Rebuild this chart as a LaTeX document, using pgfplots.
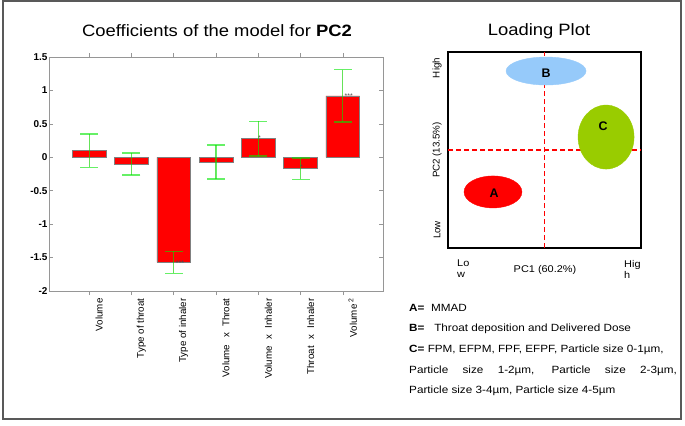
\documentclass[border=0pt]{standalone}
\usepackage{graphicx}
\usepackage{pgfplots}
\pgfplotsset{compat=1.18}
\usepackage{fontspec}
\setmainfont{Liberation Sans}

\definecolor{axgray}{RGB}{150,150,150}
\definecolor{bblue}{RGB}{150,202,250}
\definecolor{cgreen}{RGB}{153,204,0}
\definecolor{errgreen}{RGB}{0,230,0}
\newcommand\hs[1]{\scalebox{1.12}[1]{#1}}
\newcommand\xx{\hspace{7bp}x\hspace{6bp}}

\begin{document}
\begin{tikzpicture}
% outer frame
\draw[black!65, line width=1.3bp] (3bp,-1bp) rectangle (681bp,-419bp);

% ---- left: coefficients ----
\begin{axis}[
    at={(49bp,-291bp)}, anchor=south west,
    width=334bp, height=234bp, scale only axis,
    xmin=0.05, xmax=7.95, ymin=-2, ymax=1.5,
    ybar, bar width=0.8,
    axis line style={draw=axgray, line width=0.9bp},
    tick style={draw=axgray, line width=0.6bp},
    major tick length=4bp,
    xtick={1,...,7},
    xticklabels={Volume, Type of throat, Type of inhaler,
        Volume\xx Throat, Volume\xx Inhaler,
        Throat\xx Inhaler, Volume\,\textsuperscript{2}},
    x tick label style={rotate=90, anchor=east, yshift=-10bp,
        font=\fontsize{9.8}{10}\selectfont},
    ytick={-2,-1.5,...,1.5},
    /pgf/number format/assume math mode=true,
    y tick label style={font=\bfseries\fontsize{10}{10}\selectfont, xshift=2bp},
]
\addplot[fill=red, draw=gray, line width=0.5bp,
    error bars/.cd, y dir=both, y explicit,
    error bar style={draw=errgreen, draw opacity=0.6, line width=1.3bp},
    error mark options={draw=errgreen, draw opacity=0.6, line width=1.3bp, mark size=9bp, rotate=90}]
coordinates {
    (1,0.10)  +- (0,0.25)
    (2,-0.10) +- (0,0.165)
    (3,-1.57) +- (0,0.165)
    (4,-0.07) +- (0,0.255)
    (5,0.28)  +- (0,0.26)
    (6,-0.17) +- (0,0.16)
    (7,0.92)  +- (0,0.39)
};
\node[font=\fontsize{7}{7}\selectfont, text=black!70] at (axis cs:3.15,-1.58) {***};
\node[font=\fontsize{7}{7}\selectfont, text=black!70] at (axis cs:7.14,0.92) {***};
\node[font=\fontsize{7}{7}\selectfont, text=black!70] at (axis cs:5.03,0.29) {*};
\node[font=\fontsize{7}{7}\selectfont, text=black!70] at (axis cs:6.02,-0.15) {*};
\end{axis}

\node[font=\fontsize{16.5}{18}\selectfont] at (217bp,-31bp) {\hs{Coefficients of the model for \textbf{PC2}}};

% ---- right: loading plot ----
\begin{axis}[
    at={(448bp,-248bp)}, anchor=south west,
    width=193bp, height=196bp, scale only axis,
    xmin=0, xmax=10, ymin=0, ymax=10,
    ticks=none,
    axis line style={black, line width=1.6bp},
]
\addplot[bblue, only marks, mark=*, mark size=14bp,
    mark options={xscale=2.857, draw=bblue, fill=bblue}] coordinates {(5.08,9.03)};
\addplot[cgreen, only marks, mark=*, mark size=32bp,
    mark options={xscale=0.875, draw=cgreen, fill=cgreen}] coordinates {(8.19,5.66)};
\addplot[red, only marks, mark=*, mark size=16bp,
    mark options={xscale=1.81, draw=red, fill=red}] coordinates {(2.33,2.86)};
\addplot[red, line width=1.4bp, dash pattern=on 5bp off 3bp] coordinates {(5,0) (5,10)};
\addplot[red, line width=1.4bp, dash pattern=on 5bp off 3bp] coordinates {(0,5) (10,5)};
\end{axis}

% ellipse letters
\begin{scope}[every node/.style={font=\bfseries\fontsize{12.5}{13}\selectfont, inner sep=0pt}]
\node at (546bp,-73bp) {B};
\node at (603bp,-126bp) {C};
\node at (494bp,-193bp) {A};
\end{scope}

\node[font=\fontsize{16.5}{18}\selectfont] at (539bp,-31bp) {\hs{Loading Plot}};
\begin{scope}[every node/.style={font=\fontsize{9.8}{11}\selectfont, inner sep=0pt}]
\node[rotate=90] at (437bp,-68bp) {High};
\node[rotate=90] at (437bp,-230bp) {Low};
\node[rotate=90] at (437bp,-150bp) {PC2 (13.5\%)};
\node at (545bp,-270bp) {\hs{PC1 (60.2\%)}};
\node[anchor=north west, align=left] at (457bp,-260bp) {\hs{Lo}\\\hs{w}};
\node[anchor=north west, align=left] at (624bp,-260bp) {\hs{Hig}\\\hs{h}};
\end{scope}

% ---- key text ----
\begin{scope}[every node/.style={font=\fontsize{10.5}{12}\selectfont, inner sep=0pt, anchor=west}]
\node at (409bp,-308bp) {\hs{\textbf{A=}\ \ MMAD}};
\node at (409bp,-329bp) {\hs{\textbf{B=}\ \ \ Throat deposition and Delivered Dose}};
\node at (409bp,-350bp) {\hs{\textbf{C=} FPM, EFPM, FPF, EFPF, Particle size 0-1µm,}};
\node at (409bp,-371bp) {\hs{\makebox[239bp][s]{Particle size 1-2µm, Particle size 2-3µm,}}};
\node at (409bp,-391bp) {\hs{Particle size 3-4µm, Particle size 4-5µm}};
\end{scope}

\pgfresetboundingbox
\useasboundingbox (0,0) rectangle (685bp,-426bp);
\end{tikzpicture}
\end{document}
